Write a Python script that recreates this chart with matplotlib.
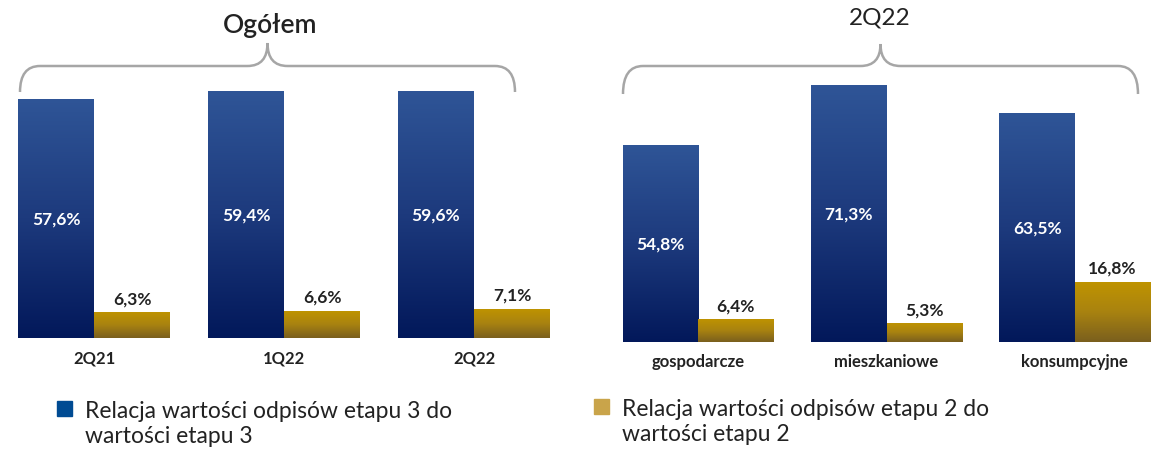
import numpy as np
import matplotlib.pyplot as plt
from matplotlib.path import Path
from matplotlib.patches import PathPatch
from matplotlib.colors import LinearSegmentedColormap

plt.rcParams['font.family'] = ['Lato', 'DejaVu Sans']

left_title = "Ogółem"
left_cats = ["2Q21", "1Q22", "2Q22"]
left_stage3 = [57.6, 59.4, 59.6]
left_stage2 = [6.3, 6.6, 7.1]

right_title = "2Q22"
right_cats = ["gospodarcze", "mieszkaniowe", "konsumpcyjne"]
right_stage3 = [54.8, 71.3, 63.5]
right_stage2 = [6.4, 5.3, 16.8]

legend_stage3 = "Relacja wartości odpisów etapu 3 do\nwartości etapu 3"
legend_stage2 = "Relacja wartości odpisów etapu 2 do\nwartości etapu 2"

blue_cmap = LinearSegmentedColormap.from_list("b", ["#02185a", "#1d3a7d", "#2f5597"])
gold_cmap = LinearSegmentedColormap.from_list("g", ["#7a5f1e", "#a98310", "#c09400"])

W, H = 1157, 452
fig = plt.figure(figsize=(W / 100, H / 100), dpi=100)


def px_axes(x0, y_top, x1, y_bot):
    return fig.add_axes([x0 / W, 1 - y_bot / H, (x1 - x0) / W, (y_bot - y_top) / H])


def gradient_bars(ax, bars, cmap):
    grad = np.linspace(0, 1, 256).reshape(-1, 1)
    for b in bars:
        x, y = b.get_x(), b.get_y()
        w, h = b.get_width(), b.get_height()
        im = ax.imshow(grad, cmap=cmap, origin="lower", aspect="auto",
                       extent=[x, x + w, y, y + h], zorder=2)
        im.set_clip_path(b)
        b.set_alpha(0)


def panel(ax, cats, s3, s2, ymax):
    x = np.arange(len(cats))
    w = 0.4
    b3 = ax.bar(x - w / 2, s3, w, color="#1d3a7d", zorder=1)
    b2 = ax.bar(x + w / 2, s2, w, color="#a98310", zorder=1)
    gradient_bars(ax, b3, blue_cmap)
    gradient_bars(ax, b2, gold_cmap)
    for xi, v in zip(x, s3):
        ax.text(xi - w / 2, v / 2, f"{v:.1f}%".replace(".", ","), ha="center",
                va="center", color="white", fontsize=12.5, fontweight="bold", zorder=3)
    for xi, v in zip(x, s2):
        ax.text(xi + w / 2, v + ymax * 0.022, f"{v:.1f}%".replace(".", ","),
                ha="center", va="bottom", color="#222222", fontsize=12.5,
                fontweight="bold", zorder=3)
    ax.set_xlim(-0.4, len(cats) - 0.6)
    ax.set_ylim(0, ymax)
    ax.set_xticks(x)
    ax.set_xticklabels(cats, fontsize=12, fontweight="bold", color="#222222")
    ax.tick_params(axis="x", length=0, pad=8)
    ax.set_yticks([])
    for s in ax.spines.values():
        s.set_visible(False)
    ax.patch.set_alpha(0)


axl = px_axes(18, 80, 550, 339)
panel(axl, left_cats, left_stage3, left_stage2, 259 / 4.15)
axr = px_axes(623, 80, 1150, 343)
panel(axr, right_cats, right_stage3, right_stage2, 263 / 3.6)

# overlay in pixel coordinates for titles, braces and legend
ov = fig.add_axes([0, 0, 1, 1], zorder=-1)
ov.set_xlim(0, W)
ov.set_ylim(H, 0)
ov.axis("off")


def brace(x0, x1, y_end, y_bar, y_peak):
    xm = (x0 + x1) / 2
    r = 20
    verts = [(x0, y_end), (x0, y_bar), (x0 + r, y_bar),
             (xm - r, y_bar), (xm, y_bar), (xm, y_peak),
             (xm, y_bar), (xm + r, y_bar),
             (x1 - r, y_bar), (x1, y_bar), (x1, y_end)]
    codes = [Path.MOVETO, Path.CURVE3, Path.CURVE3,
             Path.LINETO, Path.CURVE3, Path.CURVE3,
             Path.CURVE3, Path.CURVE3,
             Path.LINETO, Path.CURVE3, Path.CURVE3]
    ov.add_patch(PathPatch(Path(verts, codes), fill=False, ec="#a6a6a6", lw=1.8))


brace(20, 515, 93, 67, 44)
brace(623, 1138, 95, 67, 45)

ov.text(270, 25, left_title, ha="center", va="center", fontsize=19,
        color="#222222", fontweight="semibold")
ov.text(880, 18, right_title, ha="center", va="center", fontsize=17.5,
        color="#222222")

ov.add_patch(plt.Rectangle((57, 402), 15, 15, color="#004b93"))
ov.text(85, 424, legend_stage3, ha="left", va="center", fontsize=16.5,
        color="#222222", linespacing=1.2)
ov.add_patch(plt.Rectangle((594, 400), 15, 15, color="#c9a44a"))
ov.text(622, 422, legend_stage2, ha="left", va="center", fontsize=16.5,
        color="#222222", linespacing=1.2)

fig.savefig("out.png", dpi=100)
